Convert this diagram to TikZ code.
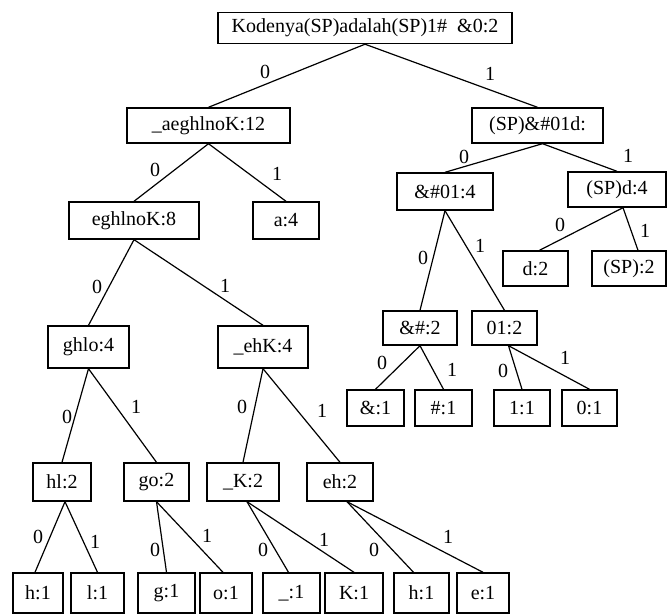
\documentclass[tikz,border=0pt]{standalone}
\usepackage{fontspec}
\setmainfont{Liberation Serif}
\begin{document}
\begin{tikzpicture}[x=1pt, y=-1pt,
  box/.style={draw, line width=1.4pt, inner sep=0pt, minimum height=36pt, font=\fontsize{20}{24}\selectfont},
  lbl/.style={inner sep=0pt, font=\fontsize{20}{24}\selectfont},
  edge/.style={line width=1.2pt}]
\useasboundingbox (0,0) rectangle (667,615);
% level 0 and 1
\node[box, minimum width=294, minimum height=31] (r) at (365,28){Kodenya(SP)adalah(SP)1\#\ \ \&0:2};
\node[box, minimum width=163, minimum height=35] (n0) at (208.5,125.5){\_aeghlnoK:12};
\node[box, minimum width=131, minimum height=35] (n1) at (537.5,125.5){(SP)\&\#01d:};
\draw[edge] (r.south) -- (n0.north);
\draw[edge] (r.south) -- (n1.north);
% level 2
\node[box, minimum width=130, minimum height=37] (n00) at (134,220.5){eghlnoK:8};
\node[box, minimum width=66, minimum height=37] (n01) at (286,220.5){a:4};
\node[box, minimum width=96, minimum height=37] (n10) at (445,191.5){\&\#01:4};
\node[box, minimum width=98, minimum height=35] (n11) at (617,189.5){(SP)d:4};
\draw[edge] (n0.south) -- (n00.north);
\draw[edge] (n0.south) -- (n01.north);
\draw[edge] ([xshift=5pt]n1.south) -- (n10.north);
\draw[edge] ([xshift=5pt]n1.south) -- (n11.north);
% level 3
\node[box, minimum width=81, minimum height=42] (n000) at (88.5,347){ghlo:4};
\node[box, minimum width=90, minimum height=42] (n001) at (263,347){\_ehK:4};
\node[box, minimum width=74, minimum height=34] (n100) at (420,328){\&\#:2};
\node[box, minimum width=65, minimum height=34] (n101) at (504.5,328){01:2};
\node[box, minimum width=65, minimum height=35] (n110) at (535.5,268.5){d:2};
\node[box, minimum width=74, minimum height=35] (n111) at (629,268.5){(SP):2};
\draw[edge] (n00.south) -- (n000.north);
\draw[edge] (n00.south) -- (n001.north);
\draw[edge] (n10.south) -- (n100.north);
\draw[edge] (n10.south) -- (n101.north);
\draw[edge] ([xshift=6pt]n11.south) -- ([xshift=4pt]n110.north);
\draw[edge] ([xshift=6pt]n11.south) -- ([xshift=9pt]n111.north);
% level 4
\node[box, minimum width=58, minimum height=38] (n0000) at (62,482){hl:2};
\node[box, minimum width=65, minimum height=38] (n0001) at (156.5,482){go:2};
\node[box, minimum width=72, minimum height=38] (n0010) at (243,482){\_K:2};
\node[box, minimum width=66, minimum height=38] (n0011) at (340,482){eh:2};
\node[box, minimum width=57] (n1000) at (375.5,408){\&:1};
\node[box, minimum width=57] (n1001) at (443.5,408){\#:1};
\node[box, minimum width=56] (n1010) at (522,408){1:1};
\node[box, minimum width=55] (n1011) at (589.5,408){0:1};
\draw[edge] (n000.south) -- (n0000.north);
\draw[edge] (n000.south) -- (n0001.north);
\draw[edge] (n001.south) -- (n0010.north);
\draw[edge] (n001.south) -- (n0011.north);
\draw[edge] (n100.south) -- (n1000.north);
\draw[edge] (n100.south) -- (n1001.north);
\draw[edge] ([xshift=4pt]n101.south) -- (n1010.north);
\draw[edge] ([xshift=4pt]n101.south) -- (n1011.north);
% leaves
\node[box, minimum width=50, minimum height=40] (a0) at (38,593){h:1};
\node[box, minimum width=53, minimum height=40] (a1) at (97.5,593){l:1};
\node[box, minimum width=57, minimum height=40] (a2) at (166.5,593){g:1};
\node[box, minimum width=52, minimum height=40] (a3) at (226,593){o:1};
\node[box, minimum width=57, minimum height=40] (a4) at (291.5,593){\_:1};
\node[box, minimum width=58, minimum height=40] (a5) at (354,593){K:1};
\node[box, minimum width=55, minimum height=40] (a6) at (421.5,593){h:1};
\node[box, minimum width=52, minimum height=40] (a7) at (483,593){e:1};
\draw[edge] ([xshift=3pt]n0000.south) -- ([xshift=-3pt]a0.north);
\draw[edge] ([xshift=3pt]n0000.south) -- (a1.north);
\draw[edge] (n0001.south) -- (a2.north);
\draw[edge] (n0001.south) -- ([xshift=-3pt]a3.north);
\draw[edge] ([xshift=4pt]n0010.south) -- ([xshift=-3pt]a4.north);
\draw[edge] ([xshift=4pt]n0010.south) -- (a5.north);
\draw[edge] ([xshift=7pt]n0011.south) -- ([xshift=-8pt]a6.north);
\draw[edge] ([xshift=7pt]n0011.south) -- (a7.north);
% branch labels
\foreach \x/\y/\t [count=\i] in {265/72/0, 490/74/1, 155/170/0, 277/174/1, 464/157/0, 628/156/1,
  97/287/0, 225/286/1, 560/225/0, 645/231/1, 423/258/0, 480/246/1,
  67/417/0, 136/407/1, 242/407/0, 322/411/1, 382/363/0, 452/370/1, 503/371/0, 565/358/1,
  38/537/0, 95/542/1, 155/550/0, 207/536/1, 263/550/0, 324/540/1, 374/550/0, 448/537/1}
  \node[lbl] (b\i) at (\x,\y){\t};
\end{tikzpicture}
\end{document}
